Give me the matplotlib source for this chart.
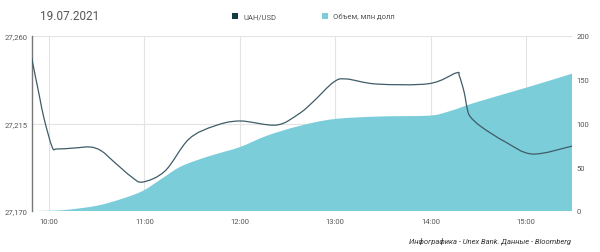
import matplotlib.pyplot as plt
import numpy as np
from matplotlib.path import Path
from matplotlib.patches import PathPatch, Rectangle

# UAH/USD rate during the session
rate_times = ["09:49", "09:54", "09:57", "10:02", "10:05", "10:16", "10:26", "10:33",
              "10:41", "10:52", "10:59", "11:13", "11:28", "11:44", "12:00", "12:23",
              "12:37", "12:46", "12:59", "13:07", "13:26", "13:59", "14:16",
              "14:18", "14:21", "14:23", "14:25", "14:32", "14:47", "15:04", "15:29"]
rate_values = [27.2492, 27.2291, 27.2173, 27.2029, 27.2019, 27.2024, 27.2029, 27.2009,
               27.1952, 27.1875, 27.1849, 27.1906, 27.2070, 27.2137, 27.2163, 27.2142,
               27.2199, 27.2261, 27.2363, 27.2379, 27.2353, 27.2355, 27.2410,
               27.2395, 27.2312, 27.2225, 27.2184, 27.2132, 27.2055, 27.1993, 27.2034]

# cumulative volume, mln USD
vol_times = ["09:49", "10:09", "10:30", "10:46", "10:59", "11:11", "11:22", "11:33",
             "11:45", "12:00", "12:17", "12:37", "12:59", "13:28", "13:59", "14:10",
             "14:20", "14:30", "15:02", "15:29"]
vol_values = [0, 1, 6, 14, 23, 37, 50, 58, 65, 73, 86, 97, 105, 108, 109, 113,
              119, 125, 142, 157]

hour_ticks = [10, 11, 12, 13, 14, 15]
hour_labels = ["10:00", "11:00", "12:00", "13:00", "14:00", "15:00"]
rate_ticks = [27.170, 27.215, 27.260]
rate_labels = ["27,170", "27,215", "27,260"]
vol_ticks = [0, 50, 100, 150, 200]

LINE = "#3f5c68"
AREA = "#7bcdd9"
GRID = "#e3e3e3"
TEXT = "#555555"
FONT = "Roboto"


def to_hours(stamps):
    return np.array([int(s[:2]) + int(s[3:]) / 60 for s in stamps])


def smooth_verts(x, y):
    # catmull-rom through the points, written as cubic bezier segments
    pts = np.column_stack([x, y])
    n = len(pts)
    verts = [pts[0]]
    codes = [Path.MOVETO]
    for i in range(n - 1):
        p0 = pts[max(i - 1, 0)]
        p1 = pts[i]
        p2 = pts[i + 1]
        p3 = pts[min(i + 2, n - 1)]
        verts += [p1 + (p2 - p0) / 6, p2 - (p3 - p1) / 6, p2]
        codes += [Path.CURVE4] * 3
    return verts, codes


plt.rcParams["font.family"] = [FONT, "DejaVu Sans"]

fig = plt.figure(figsize=(6, 2.53), dpi=100, facecolor="white")
ax = fig.add_axes([32 / 600, 1 - 212 / 253, 540 / 600, 175 / 253])
ax2 = ax.twinx()
ax.set_zorder(ax2.get_zorder() + 1)
ax.patch.set_visible(False)

xlim = (10 - 17 / 95.7, 15 + 46 / 95.7)

# volume area
vx = to_hours(vol_times)
verts, codes = smooth_verts(vx, np.array(vol_values, dtype=float))
verts += [(vx[-1], 0), (vx[0], 0), (vx[0], 0)]
codes += [Path.LINETO, Path.LINETO, Path.CLOSEPOLY]
ax2.add_patch(PathPatch(Path(verts, codes), facecolor=AREA, edgecolor="none", zorder=2))
ax2.set_ylim(0, 200)
ax2.set_yticks(vol_ticks)

# rate line
rx = to_hours(rate_times)
verts, codes = smooth_verts(rx, np.array(rate_values))
ax.add_patch(PathPatch(Path(verts, codes), facecolor="none", edgecolor=LINE, lw=0.9, zorder=3))
ax.set_ylim(27.170, 27.260)
ax.set_yticks(rate_ticks)
ax.set_yticklabels(rate_labels)

for a in (ax, ax2):
    a.set_xlim(*xlim)
    for s in a.spines.values():
        s.set_visible(False)
    a.tick_params(length=0, labelsize=5.5, colors=TEXT, pad=3)

ax.spines["left"].set_visible(True)
ax.spines["left"].set_color("#777777")
ax.spines["left"].set_linewidth(1)

ax.set_xticks(hour_ticks)
ax.set_xticklabels(hour_labels)
ax.tick_params(axis="x", pad=5)

# grid drawn under the area
ax2.set_xticks(hour_ticks)
ax2.tick_params(axis="x", labelbottom=False)
for h in hour_ticks:
    ax2.axvline(h, color=GRID, lw=0.8, zorder=1)
for r in rate_ticks:
    ax2.axhline((r - 27.170) / 0.090 * 200, color=GRID, lw=0.8, zorder=1)

# title and legend
fig.text(40 / 600, 1 - 16 / 253, "19.07.2021", fontsize=8.5, color=TEXT, va="center")
fig.patches.append(Rectangle((232 / 600, 1 - 20 / 253), 6 / 600, 6 / 253,
                             transform=fig.transFigure, facecolor="#173b45", figure=fig))
fig.text(243 / 600, 1 - 17 / 253, "UAH/USD", fontsize=5.5, color=TEXT, va="center")
fig.patches.append(Rectangle((322 / 600, 1 - 20 / 253), 6 / 600, 6 / 253,
                             transform=fig.transFigure, facecolor=AREA, figure=fig))
fig.text(333 / 600, 1 - 17 / 253, "Объем, млн долл", fontsize=5.5, color=TEXT, va="center")

fig.text(571 / 600, 1 - 241 / 253, "Инфографика - Unex Bank. Данные - Bloomberg",
         fontsize=5.5, style="italic", color="#333333", ha="right", va="center")

fig.savefig("out.png", dpi=100)
